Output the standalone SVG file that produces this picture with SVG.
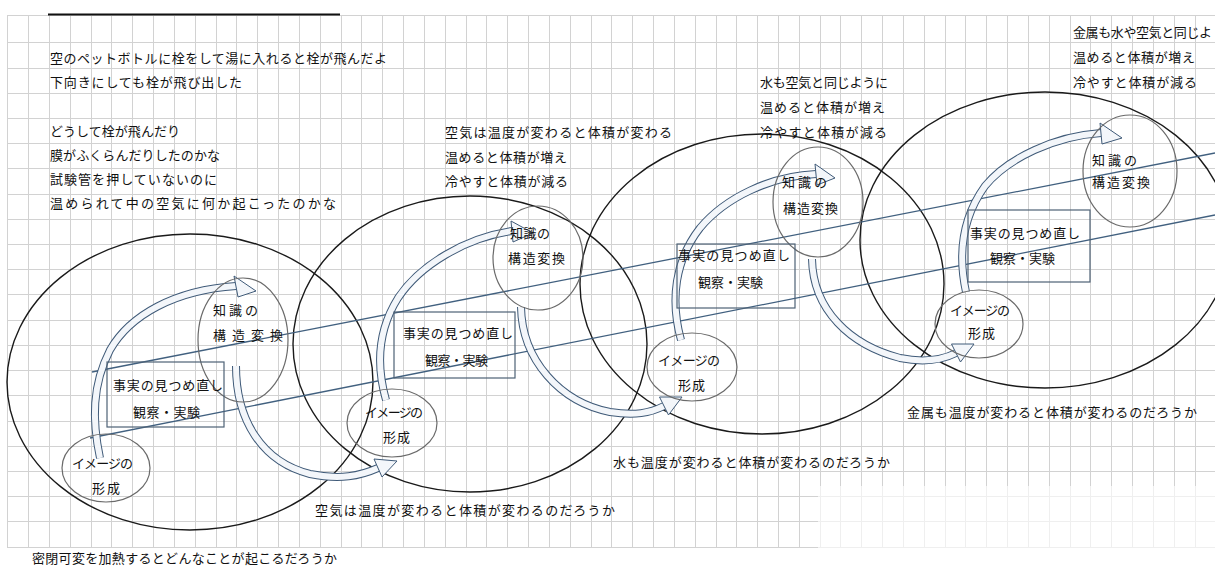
<svg xmlns="http://www.w3.org/2000/svg" width="1215" height="568" viewBox="0 0 1215 568">
<style>
.grid{stroke:#d2d2d2;stroke-width:1;fill:none}
.big{fill:none;stroke:#1a1a1a;stroke-width:1.4}
.circ{fill:none;stroke:#6a6a6a;stroke-width:1.2}
.box{fill:none;stroke:#4e6276;stroke-width:1.2}
.line{stroke:#41607f;stroke-width:1.3;fill:none}
.bo{fill:none;stroke:#3f5a78;stroke-width:8}
.bi{fill:none;stroke:#f3f6fa;stroke-width:6}
.head{fill:#f3f6fa;stroke:#3f5a78;stroke-width:1;stroke-linejoin:round}
text{font-family:"Noto Sans CJK JP","Noto Sans CJK SC",sans-serif;font-size:13px;fill:#111}
</style>
<rect width="1215" height="568" fill="#fff"/>
<g id="grid">
<path class="grid" d="M7.5,15.5V547.5M28.5,15.5V547.5M49.5,15.5V547.5M70.5,15.5V547.5M91.5,15.5V547.5M111.5,15.5V547.5M132.5,15.5V547.5M153.5,15.5V547.5M174.5,15.5V547.5M195.5,15.5V547.5M216.5,15.5V547.5M236.5,15.5V547.5M257.5,15.5V547.5M278.5,15.5V547.5M299.5,15.5V547.5M320.5,15.5V547.5M341.5,15.5V547.5M361.5,15.5V547.5M382.5,15.5V547.5M403.5,15.5V547.5M424.5,15.5V547.5M445.5,15.5V547.5M466.5,15.5V547.5M486.5,15.5V547.5M507.5,15.5V547.5M528.5,15.5V547.5M549.5,15.5V547.5M570.5,15.5V547.5M591.5,15.5V547.5M611.5,15.5V547.5M632.5,15.5V547.5M653.5,15.5V547.5M674.5,15.5V547.5M695.5,15.5V547.5M716.5,15.5V547.5M736.5,15.5V547.5M757.5,15.5V547.5M778.5,15.5V547.5M799.5,15.5V547.5M820.5,15.5V547.5M840.5,15.5V547.5M861.5,15.5V547.5M882.5,15.5V547.5M903.5,15.5V547.5M924.5,15.5V547.5M945.5,15.5V547.5M965.5,15.5V547.5M986.5,15.5V547.5M1007.5,15.5V547.5M1028.5,15.5V547.5M1049.5,15.5V547.5M1070.5,15.5V547.5M1090.5,15.5V547.5M1111.5,15.5V547.5M1132.5,15.5V547.5M1153.5,15.5V547.5M1174.5,15.5V547.5M1195.5,15.5V547.5
M7,15.5H1215M7,42.5H1215M7,68.5H1215M7,93.5H1215M7,118.5H1215M7,143.5H1215M7,168.5H1215M7,194.5H1215M7,219.5H1215M7,244.5H1215M7,269.5H1215M7,294.5H1215M7,320.5H1215M7,345.5H1215M7,370.5H1215M7,395.5H1215M7,421.5H1215M7,446.5H1215M7,471.5H1215M7,496.5H1215M7,521.5H1215M7,547.5H1215"/>
<rect x="818" y="486" width="397" height="62" fill="#fff" opacity="0.65"/>
<path d="M48,14.5H340" stroke="#111" stroke-width="2"/>
</g>
<g id="cycles">
<ellipse id="cycle-1" class="big" cx="190" cy="382" rx="183" ry="148"/>
<ellipse id="cycle-2" class="big" cx="470" cy="344" rx="177" ry="148"/>
<ellipse id="cycle-3" class="big" cx="762" cy="284" rx="182" ry="150"/>
<ellipse id="cycle-4" class="big" cx="1045" cy="240" rx="185" ry="148"/>
</g>
<g id="connectors">
<path class="line" d="M92,372L1215,153"/>
<path class="line" d="M90,438L1215,215"/>
<path class="bo" d="M100,458C92,420 92,385 110,350C130,315 175,290 236,286"/>
<path class="bi" d="M100,458C92,420 92,385 110,350C130,315 175,290 236,286"/>
<polygon class="head" points="234,276 238,297 256,291"/>
<path class="bo" d="M386,400C376,365 378,330 398,298C420,265 465,238 512,231"/>
<path class="bi" d="M386,400C376,365 378,330 398,298C420,265 465,238 512,231"/>
<polygon class="head" points="511,221 513,242 533,233"/>
<path class="bo" d="M681,340C670,300 675,260 700,228C725,198 770,176 816,174"/>
<path class="bi" d="M681,340C670,300 675,260 700,228C725,198 770,176 816,174"/>
<polygon class="head" points="815,164 817,185 835,178"/>
<path class="bo" d="M966,292C958,255 962,218 985,186C1008,158 1055,136 1101,133"/>
<path class="bi" d="M966,292C958,255 962,218 985,186C1008,158 1055,136 1101,133"/>
<polygon class="head" points="1100,123 1102,144 1122,138"/>
<path class="bo" d="M236,366C236,420 262,462 310,474C340,480 360,476 378,468"/>
<path class="bi" d="M236,366C236,420 262,462 310,474C340,480 360,476 378,468"/>
<polygon class="head" points="382,477 374,459 397,461"/>
<path class="bo" d="M521,307C522,360 560,402 610,412C635,416 650,413 664,406"/>
<path class="bi" d="M521,307C522,360 560,402 610,412C635,416 650,413 664,406"/>
<polygon class="head" points="668.5,415 659.5,397 682,397"/>
<path class="bo" d="M812,259C813,310 850,345 900,358C925,363 942,360 956,353"/>
<path class="bi" d="M812,259C813,310 850,345 900,358C925,363 942,360 956,353"/>
<polygon class="head" points="960.5,362 951.5,344 974,344"/>
</g>
<g id="g1-knowledge"><ellipse class="circ" cx="243" cy="340" rx="45" ry="62"/><text x="213" y="315" textLength="45">知識の</text><text x="213" y="340" textLength="70">構造変換</text></g>
<g id="g1-fact"><rect class="box" x="107" y="362" width="117" height="65"/><text x="113" y="390" textLength="110">事実の見つめ直し</text><text x="133" y="417" textLength="67">観察・実験</text></g>
<g id="g1-image"><ellipse class="circ" cx="106" cy="468" rx="44" ry="34"/><text x="72" y="468" textLength="61">イメージの</text><text x="92" y="493" textLength="28">形成</text></g>
<g id="g2-knowledge"><ellipse class="circ" cx="538" cy="258" rx="45" ry="52"/><text x="510" y="238" textLength="40">知識の</text><text x="508" y="263" textLength="57">構造変換</text></g>
<g id="g2-fact"><rect class="box" x="394" y="312" width="121" height="66"/><text x="403" y="338" textLength="110">事実の見つめ直し</text><text x="425" y="365" textLength="63">観察・実験</text></g>
<g id="g2-image"><ellipse class="circ" cx="392" cy="423" rx="45" ry="34"/><text x="365" y="417" textLength="58">イメージの</text><text x="383" y="442" textLength="27">形成</text></g>
<g id="g3-knowledge"><ellipse class="circ" cx="818" cy="202" rx="45" ry="55"/><text x="782" y="187" textLength="45">知識の</text><text x="783" y="213" textLength="55">構造変換</text></g>
<g id="g3-fact"><rect class="box" x="677" y="244" width="118" height="64"/><text x="678" y="260" textLength="112">事実の見つめ直し</text><text x="698" y="287" textLength="65">観察・実験</text></g>
<g id="g3-image"><ellipse class="circ" cx="692" cy="367" rx="45" ry="34"/><text x="658" y="365" textLength="62">イメージの</text><text x="678" y="390" textLength="27">形成</text></g>
<g id="g4-knowledge"><ellipse class="circ" cx="1130" cy="171" rx="47" ry="56"/><text x="1092" y="165" textLength="45">知識の</text><text x="1092" y="187" textLength="58">構造変換</text></g>
<g id="g4-fact"><rect class="box" x="968" y="210" width="122" height="72"/><text x="970" y="238" textLength="110">事実の見つめ直し</text><text x="990" y="263" textLength="65">観察・実験</text></g>
<g id="g4-image"><ellipse class="circ" cx="979" cy="324" rx="44" ry="34"/><text x="950" y="315" textLength="60">イメージの</text><text x="968" y="338" textLength="27">形成</text></g>
<g id="notes">
<text x="50" y="63" textLength="337">空のペットボトルに栓をして湯に入れると栓が飛んだよ</text>
<text x="50" y="87" textLength="192">下向きにしても栓が飛び出した</text>
<text x="50" y="136" textLength="130">どうして栓が飛んだり</text>
<text x="50" y="160" textLength="170">膜がふくらんだりしたのかな</text>
<text x="50" y="184" textLength="167">試験管を押していないのに</text>
<text x="50" y="208" textLength="286">温められて中の空気に何か起こったのかな</text>
<text x="445" y="137" textLength="227">空気は温度が変わると体積が変わる</text>
<text x="445" y="162" textLength="122">温めると体積が増え</text>
<text x="445" y="186" textLength="123">冷やすと体積が減る</text>
<text x="760" y="87" textLength="128">水も空気と同じように</text>
<text x="760" y="112" textLength="125">温めると体積が増え</text>
<text x="760" y="137" textLength="127">冷やすと体積が減る</text>
<text x="1073" y="37" textLength="139">金属も水や空気と同じよ</text>
<text x="1073" y="62" textLength="122">温めると体積が増え</text>
<text x="1073" y="87" textLength="124">冷やすと体積が減る</text>
<text x="32" y="563" textLength="305">密閉可変を加熱するとどんなことが起こるだろうか</text>
<text x="315" y="515" textLength="300">空気は温度が変わると体積が変わるのだろうか</text>
<text x="613" y="467" textLength="277">水も温度が変わると体積が変わるのだろうか</text>
<text x="907" y="417" textLength="290">金属も温度が変わると体積が変わるのだろうか</text>
</g>
</svg>
